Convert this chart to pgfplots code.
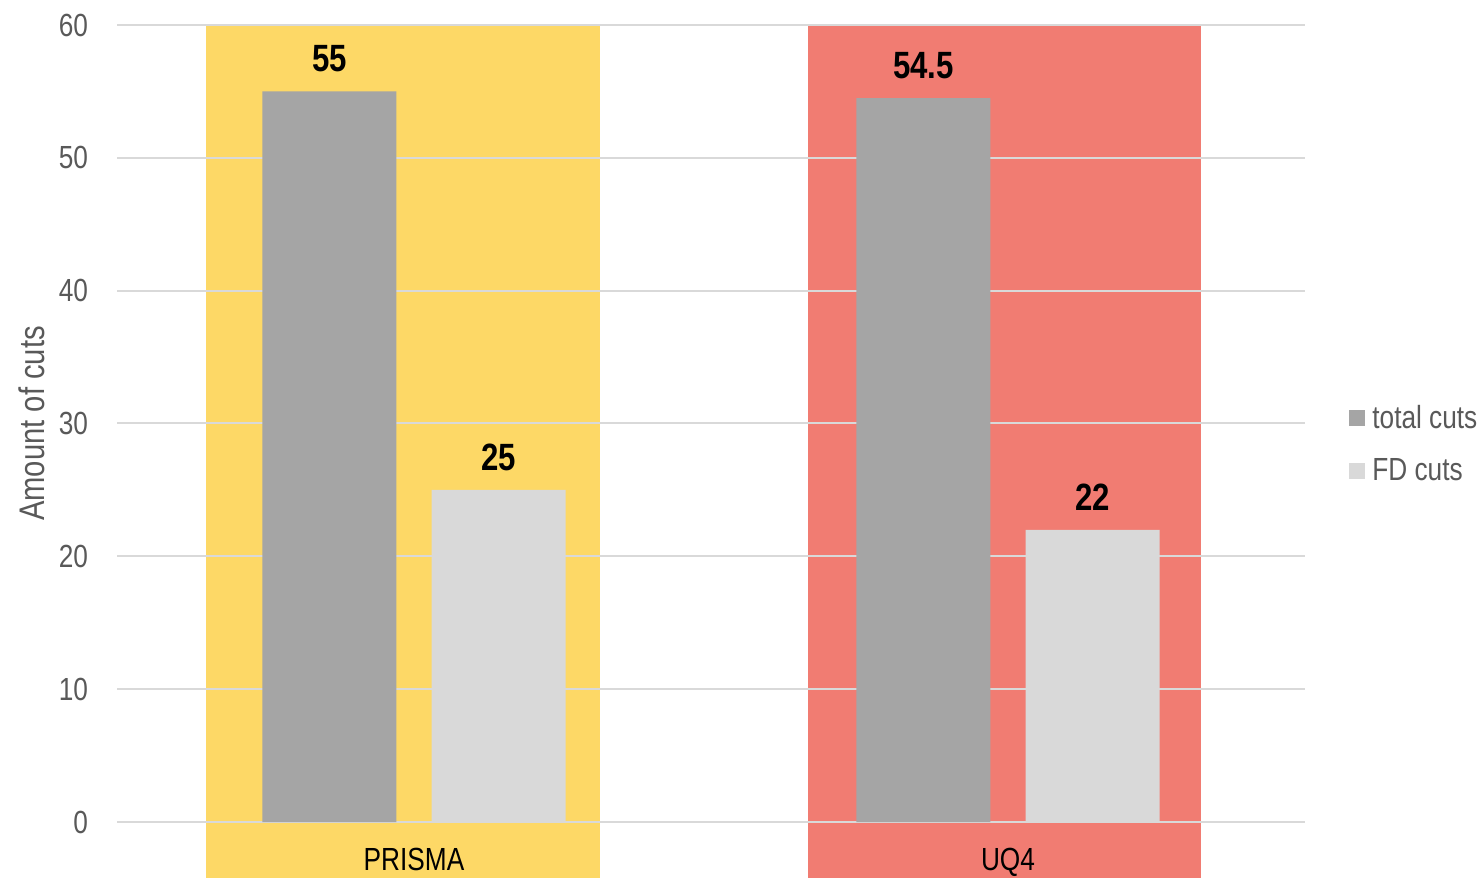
\documentclass[border=0pt]{standalone}
\usepackage{fontspec}
\setmainfont{Liberation Sans}[FakeStretch=0.82]
\usepackage{pgfplots}
\pgfplotsset{compat=1.18}
\definecolor{bandY}{RGB}{253,216,102}
\definecolor{bandR}{RGB}{241,124,114}
\definecolor{barD}{RGB}{165,165,165}
\definecolor{barL}{RGB}{217,217,217}
\definecolor{gridc}{RGB}{217,217,217}
\definecolor{txt}{RGB}{89,89,89}
\begin{document}
\begin{tikzpicture}
\begin{axis}[
  set layers,
  scale only axis,
  width=594bp, height=398.5bp,
  xmin=-0.5, xmax=1.5, ymin=0, ymax=60,
  clip=false,
  axis line style={draw=none},
  /pgf/number format/assume math mode=true,
  ymajorgrids, grid style={gridc, line width=1bp},
  xtick={0,1}, xticklabels={PRISMA,UQ4},
  ytick={0,10,...,60},
  major tick length=0pt,
  tick label style={font=\fontsize{16bp}{18bp}\selectfont},
  yticklabel style={text=txt, xshift=-11bp},
  xticklabel style={text=black, anchor=base, yshift=-24bp, font=\fontsize{16bp}{18bp}\selectfont},
  ylabel={Amount of cuts},
  ylabel style={at={(rel axis cs:0,0.5)}, anchor=center, yshift=42.5bp, text=txt, font=\fontsize{17.8bp}{20bp}\selectfont},
  legend style={draw=none, fill=none, inner sep=0pt, at={(1.037,0.474)}, anchor=west, row sep=9.5bp, column sep=1.5bp,
    font=\fontsize{16bp}{18bp}\selectfont, text=txt, nodes={inner sep=2bp}},
  legend cell align=left,
  legend image code/.code={\fill[#1] (0bp,-4bp) rectangle (8bp,4bp);},
  nodes near coords style={font=\bfseries\fontsize{19bp}{21bp}\selectfont, text=black, anchor=south, inner sep=0pt, yshift=9.5bp},
]
% background bands
\addplot[fill=bandY, draw=none, forget plot, on layer=axis background] coordinates {(-0.350,-4.3) (0.313,-4.3) (0.313,60) (-0.350,60)};
\addplot[fill=bandR, draw=none, forget plot, on layer=axis background] coordinates {(0.663,-4.3) (1.325,-4.3) (1.325,60) (0.663,60)};
% bars
\addplot[ybar, bar width=67bp, bar shift=-42.3bp, fill=barD, draw=none, nodes near coords,
  every node near coord/.append style={xshift=-42.3bp}] coordinates {(0,55) (1,54.5)};
\addlegendentry{total cuts}
\addplot[ybar, bar width=67bp, bar shift=42.3bp, fill=barL, draw=none, nodes near coords,
  every node near coord/.append style={xshift=42.3bp}] coordinates {(0,25) (1,22)};
\addlegendentry{FD cuts}
\end{axis}
\pgfresetboundingbox
\path ([shift={(-58.5bp,-28bp)}]current axis.south west) rectangle ([shift={(89bp,12.5bp)}]current axis.north east);
\end{tikzpicture}
\end{document}
